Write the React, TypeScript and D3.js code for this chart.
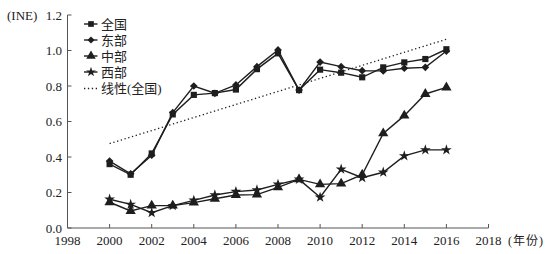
import React from "react";
import * as d3 from "d3";

const years = [2000, 2001, 2002, 2003, 2004, 2005, 2006, 2007, 2008, 2009, 2010, 2011, 2012, 2013, 2014, 2015, 2016];
const national = [0.36, 0.30, 0.42, 0.64, 0.75, 0.76, 0.78, 0.895, 0.984, 0.777, 0.892, 0.875, 0.849, 0.905, 0.933, 0.952, 1.007];
const east = [0.377, 0.305, 0.41, 0.65, 0.80, 0.759, 0.806, 0.909, 1.003, 0.777, 0.935, 0.909, 0.886, 0.885, 0.90, 0.905, 0.997];
const central = [0.145, 0.096, 0.126, 0.126, 0.143, 0.165, 0.186, 0.188, 0.229, 0.274, 0.246, 0.25, 0.30, 0.533, 0.633, 0.755, 0.792];
const west = [0.162, 0.133, 0.086, 0.126, 0.156, 0.186, 0.205, 0.214, 0.246, 0.274, 0.173, 0.331, 0.283, 0.314, 0.406, 0.44, 0.44];
const seriesNames = ["全国", "东部", "中部", "西部"];
const trendName = "线性(全国)";
const yTicks = [0, 0.2, 0.4, 0.6, 0.8, 1.0, 1.2];
const xTicks = [1998, 2000, 2002, 2004, 2006, 2008, 2010, 2012, 2014, 2016, 2018];

const W = 549, H = 254;
const left = 67.5, right = 488.5, top = 15, bottom = 228;
const x = d3.scaleLinear().domain([1998, 2018]).range([left, right]);
const y = d3.scaleLinear().domain([0, 1.2]).range([bottom, top]);

const symbols = [d3.symbolSquare, d3.symbolSquare, d3.symbolTriangle, d3.symbolStar];
const rotations = [0, 45, 0, 0];
const sizes = [38, 30, 46, 36];
const allSeries = [national, east, central, west];
const ink = "#1e1e1e";
const axisColor = "#555";
const font = "'Liberation Serif', 'Noto Sans CJK SC', serif";

function regression(xs: number[], ys: number[]) {
  const mx = d3.mean(xs)!;
  const my = d3.mean(ys)!;
  let sxy = 0, sxx = 0;
  xs.forEach((v, i) => { sxy += (v - mx) * (ys[i] - my); sxx += (v - mx) * (v - mx); });
  const b = sxy / sxx;
  return (t: number) => my + b * (t - mx);
}

export default function App() {
  const line = d3.line<number>().x((_, i) => x(years[i])).y((v) => y(v));
  const trend = regression(years, national);
  const y0 = years[0], y1 = years[years.length - 1];
  const legendY = [24, 40, 56, 72, 88.5];
  return (
    <svg width={W} height={H} style={{ display: "block", position: "absolute", left: 0, top: 0 }} fontFamily={font}>
      <rect width={W} height={H} fill="#fff" />
      {/* axes */}
      <line x1={left} x2={left} y1={top} y2={bottom} stroke={axisColor} strokeWidth={1} />
      <line x1={left} x2={right} y1={bottom} y2={bottom} stroke={axisColor} strokeWidth={1} />
      {yTicks.map((t) => (
        <g key={"y" + t}>
          <line x1={left} x2={left + 4} y1={y(t)} y2={y(t)} stroke={axisColor} />
          <text x={62} y={y(t)} dy="0.35em" textAnchor="end" fontSize={13} fill="#222">{t.toFixed(1)}</text>
        </g>
      ))}
      {xTicks.map((t) => (
        <g key={"x" + t}>
          <line x1={x(t)} x2={x(t)} y1={bottom} y2={bottom - 4} stroke={axisColor} />
          <text x={x(t)} y={245} textAnchor="middle" fontSize={13} fill="#222">{t}</text>
        </g>
      ))}
      <text x={7} y={19.5} fontSize={13} fill="#222">(INE)</text>
      <text x={508} y={245} fontSize={12} letterSpacing={1} fill="#222">(年份)</text>
      {/* trend line */}
      <line x1={x(y0)} y1={y(trend(y0))} x2={x(y1)} y2={y(trend(y1))} stroke={ink} strokeWidth={1.3} strokeDasharray="1.3,2.6" />
      {/* series */}
      {allSeries.map((s, si) => (
        <g key={"s" + si}>
          <path d={line(s) || ""} fill="none" stroke={ink} strokeWidth={1.4} />
          {s.map((v, i) => (
            <path key={i} d={d3.symbol(symbols[si], sizes[si])() || ""} transform={`translate(${x(years[i])},${y(v)}) rotate(${rotations[si]})`} fill={ink} />
          ))}
        </g>
      ))}
      {/* legend */}
      {seriesNames.map((n, i) => (
        <g key={"l" + i}>
          <line x1={84} x2={97.5} y1={legendY[i]} y2={legendY[i]} stroke={ink} strokeWidth={1.4} />
          <path d={d3.symbol(symbols[i], sizes[i] * 0.85)() || ""} transform={`translate(91,${legendY[i]}) rotate(${rotations[i]})`} fill={ink} />
          <text x={101} y={legendY[i]} dy="0.36em" fontSize={13} fill="#222">{n}</text>
        </g>
      ))}
      <line x1={84} x2={98} y1={legendY[4]} y2={legendY[4]} stroke={ink} strokeWidth={1.3} strokeDasharray="1.3,2.6" />
      <text x={101} y={legendY[4]} dy="0.36em" fontSize={13} fill="#222">{trendName}</text>
    </svg>
  );
}
